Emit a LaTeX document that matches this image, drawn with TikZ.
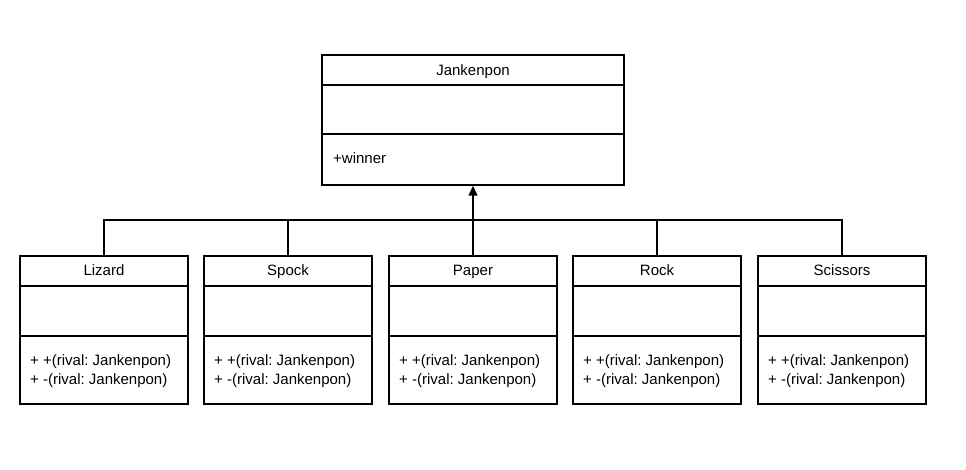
\documentclass[tikz,border=0pt]{standalone}
\usepackage{fontspec}
\setmainfont{Liberation Sans}
\usetikzlibrary{arrows.meta}
\frenchspacing
\begin{document}
\begin{tikzpicture}[x=1pt,y=1pt,
  line/.style={draw=black, line width=1.5pt},
  cls/.style={line, rectangle, inner sep=0pt, fill=white},
  every node/.style={font=\fontsize{15}{19}\selectfont, text=black},
  txt/.style={inner sep=0pt}]
\useasboundingbox (0,0) rectangle (966,470);
% parent class
\node[cls, minimum width=302, minimum height=130] (jan) at (473,350) {};
\draw[line] ([yshift=-31]jan.north west) -- ([yshift=-31]jan.north east);
\draw[line] ([yshift=-80]jan.north west) -- ([yshift=-80]jan.north east);
\node[txt, anchor=base] (jan-t) at (473,394) {Jankenpon};
\node[txt, anchor=base west] (jan-a) at (333,306) {+winner};
% child classes
\foreach \n/\cx/\t in {liz/104/Lizard, spo/288/Spock, pap/473/Paper, roc/657/Rock, sci/842/Scissors}{
  \node[cls, minimum width=168, minimum height=148] (\n) at (\cx,140) {};
  \draw[line] ([yshift=-31]\n.north west) -- ([yshift=-31]\n.north east);
  \draw[line] ([yshift=-81]\n.north west) -- ([yshift=-81]\n.north east);
  \node[txt, anchor=base] (\n-t) at (\cx,194) {\t};
  \node[txt, anchor=base west, align=left] (\n-m) at (\cx-74,85.5) {+ +(rival: Jankenpon)\\+ -(rival: Jankenpon)};
}
% connectors
\coordinate (bus) at (473,250);
\draw[line] (liz.north) |- (bus) -| (sci.north);
\draw[line] (spo.north) -- (spo.north |- bus);
\draw[line] (roc.north) -- (roc.north |- bus);
\draw[line, -{Triangle[length=10pt,width=9pt]}] (pap.north) -- (jan.south);
\end{tikzpicture}
\end{document}
